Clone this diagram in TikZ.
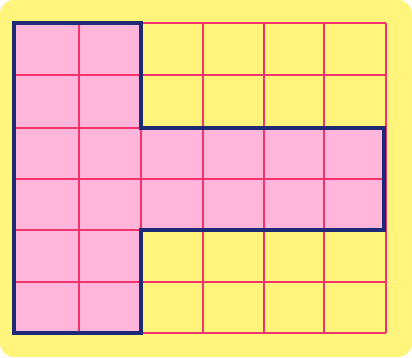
\documentclass[tikz,border=0pt]{standalone}
\begin{document}
\begin{tikzpicture}[x=1pt,y=-1pt,
  gridline/.style={draw=gridred,line width=1.6pt},
  outline/.style={draw=navy,line width=3.2pt,line join=miter}]
\definecolor{bgyellow}{HTML}{FFF47C}
\definecolor{pinkfill}{HTML}{FFB6DA}
\definecolor{gridred}{HTML}{F2336E}
\definecolor{navy}{HTML}{1E2A78}
\useasboundingbox (0,0) rectangle (412,357);
\fill[bgyellow,rounded corners=14pt] (0,0) rectangle (412,357);
% pink region
\fill[pinkfill] (14,23) -- (141,23) -- (141,128) -- (386,128) -- (386,230) -- (141,230) -- (141,333) -- (14,333) -- cycle;
% grid
\foreach \x in {14,79,141,203,264,324,386} \draw[gridline] (\x,23) -- (\x,333);
\foreach \y in {23,75,128,179,230,282,333} \draw[gridline] (14,\y) -- (386,\y);
% outline
\draw[outline] (14,23) -- (141,23) -- (141,128) -- (384,128) -- (384,230) -- (141,230) -- (141,333) -- (14,333) -- cycle;
\end{tikzpicture}
\end{document}
